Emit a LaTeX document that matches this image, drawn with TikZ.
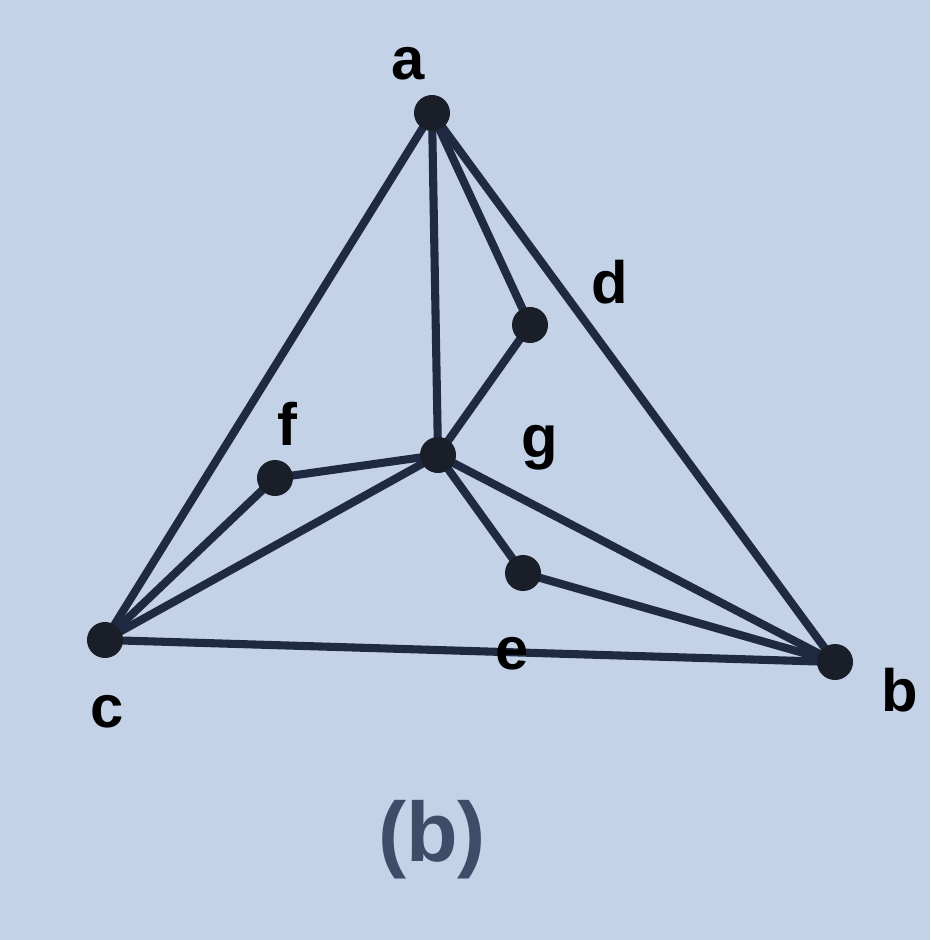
\documentclass[tikz,border=0pt]{standalone}
\usepackage{fontspec}
\setmainfont{Liberation Sans}
\definecolor{bgc}{HTML}{C4D2E8}
\definecolor{edgec}{HTML}{1F2A42}
\definecolor{dotc}{HTML}{1A1E28}
\definecolor{capc}{HTML}{3E4C68}
\begin{document}
\begin{tikzpicture}[x=0.01cm,y=-0.01cm,
  vtx/.style={circle,fill=dotc,minimum size=0.36cm,inner sep=0pt},
  edge/.style={draw=edgec,line width=2.3pt},
  lbl/.style={font=\fontsize{17}{19}\selectfont\bfseries,text=black}]
\fill[bgc] (0,0) rectangle (930,940);
\useasboundingbox (0,0) rectangle (930,940);
\coordinate (a) at (432,113);
\coordinate (d) at (530,325);
\coordinate (g) at (438,455);
\coordinate (f) at (275,478);
\coordinate (e) at (523,573);
\coordinate (c) at (105,640);
\coordinate (b) at (835,662);
\foreach \u/\v in {a/c,a/b,a/g,a/d,d/g,g/f,f/c,g/c,c/b,g/b,g/e,e/b}
  \draw[edge] (\u) -- (\v);
\foreach \p in {a,d,g,f,e,c,b}
  \node[vtx] (n\p) at (\p) {};
\node[lbl] (la) at (408,64) {a};
\node[lbl] (ld) at (610,282) {d};
\node[lbl] (lf) at (287,424) {f};
\node[lbl] (lg) at (540,448) {g};
\node[lbl] (le) at (512,654) {e};
\node[lbl] (lc) at (107,712) {c};
\node[lbl] (lb) at (900,690) {b};
\node[font=\fontsize{24}{26}\selectfont\bfseries,text=capc] (cap) at (432,840) {(b)};
\end{tikzpicture}
\end{document}
